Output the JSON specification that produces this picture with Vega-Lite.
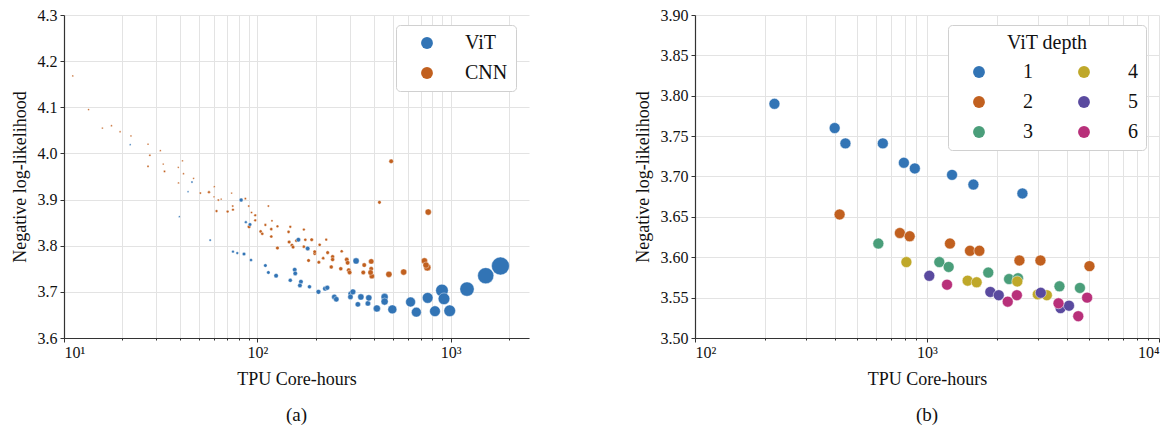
{
  "$schema": "https://vega.github.io/schema/vega-lite/v6.json",
  "padding": {"left": 11, "top": 7, "right": 0, "bottom": 0},
  "spacing": 105,
  "resolve": {"scale": {"color": "independent", "size": "independent", "x": "independent", "y": "independent"}, "legend": {"color": "independent"}},
  "config": {
    "font": "Liberation Serif",
    "view": {"stroke": null},
    "axis": {
      "labelFont": "Liberation Serif",
      "titleFont": "Liberation Serif",
      "labelFontSize": 16,
      "titleFontSize": 18,
      "titleFontWeight": "normal",
      "labelColor": "#111111",
      "titleColor": "#111111",
      "gridColor": "#e3e3e3",
      "gridWidth": 1,
      "domainColor": "#333333",
      "domainWidth": 1.2,
      "tickColor": "#333333",
      "tickSize": 4
    },
    "legend": {
      "labelFont": "Liberation Serif",
      "titleFont": "Liberation Serif",
      "labelFontSize": 20,
      "titleFontSize": 20,
      "titleFontWeight": "normal",
      "labelColor": "#111111",
      "titleColor": "#111111"
    },
    "title": {"font": "Liberation Serif", "fontSize": 19, "fontWeight": "normal", "color": "#111111"}
  },
  "datasets": {
    "models": [
      {"model": "CNN", "hours": 11.1, "nll": 4.168, "model_size": 4},
      {"model": "CNN", "hours": 13.4, "nll": 4.095, "model_size": 4},
      {"model": "CNN", "hours": 15.8, "nll": 4.055, "model_size": 4},
      {"model": "CNN", "hours": 17.6, "nll": 4.060, "model_size": 4},
      {"model": "CNN", "hours": 19.5, "nll": 4.047, "model_size": 4},
      {"model": "CNN", "hours": 22.2, "nll": 4.038, "model_size": 4},
      {"model": "CNN", "hours": 27.2, "nll": 4.020, "model_size": 4},
      {"model": "CNN", "hours": 27.8, "nll": 3.996, "model_size": 6},
      {"model": "CNN", "hours": 31.5, "nll": 4.006, "model_size": 4},
      {"model": "CNN", "hours": 27.2, "nll": 3.972, "model_size": 6},
      {"model": "CNN", "hours": 32.6, "nll": 3.977, "model_size": 4},
      {"model": "CNN", "hours": 33.1, "nll": 3.961, "model_size": 6},
      {"model": "CNN", "hours": 39.0, "nll": 3.970, "model_size": 4},
      {"model": "CNN", "hours": 41.0, "nll": 3.984, "model_size": 4},
      {"model": "CNN", "hours": 41.5, "nll": 3.956, "model_size": 4},
      {"model": "CNN", "hours": 46.8, "nll": 3.946, "model_size": 4},
      {"model": "CNN", "hours": 39.1, "nll": 3.936, "model_size": 4},
      {"model": "CNN", "hours": 50.7, "nll": 3.914, "model_size": 6},
      {"model": "CNN", "hours": 56.2, "nll": 3.916, "model_size": 9},
      {"model": "CNN", "hours": 59.9, "nll": 3.928, "model_size": 4},
      {"model": "CNN", "hours": 59.7, "nll": 3.906, "model_size": 4},
      {"model": "CNN", "hours": 62.8, "nll": 3.899, "model_size": 6},
      {"model": "CNN", "hours": 61.5, "nll": 3.875, "model_size": 9},
      {"model": "CNN", "hours": 65.0, "nll": 3.901, "model_size": 4},
      {"model": "CNN", "hours": 73.6, "nll": 3.914, "model_size": 4},
      {"model": "CNN", "hours": 70.2, "nll": 3.874, "model_size": 9},
      {"model": "CNN", "hours": 74.6, "nll": 3.886, "model_size": 6},
      {"model": "CNN", "hours": 74.8, "nll": 3.878, "model_size": 9},
      {"model": "CNN", "hours": 86.7, "nll": 3.902, "model_size": 6},
      {"model": "CNN", "hours": 90.3, "nll": 3.886, "model_size": 6},
      {"model": "CNN", "hours": 90.6, "nll": 3.841, "model_size": 16},
      {"model": "CNN", "hours": 93.3, "nll": 3.872, "model_size": 6},
      {"model": "CNN", "hours": 97.5, "nll": 3.866, "model_size": 9},
      {"model": "CNN", "hours": 97.5, "nll": 3.855, "model_size": 9},
      {"model": "CNN", "hours": 110, "nll": 3.845, "model_size": 9},
      {"model": "CNN", "hours": 114, "nll": 3.886, "model_size": 6},
      {"model": "CNN", "hours": 104, "nll": 3.831, "model_size": 12},
      {"model": "CNN", "hours": 106, "nll": 3.826, "model_size": 12},
      {"model": "CNN", "hours": 118, "nll": 3.836, "model_size": 12},
      {"model": "CNN", "hours": 119, "nll": 3.854, "model_size": 6},
      {"model": "CNN", "hours": 118, "nll": 3.820, "model_size": 12},
      {"model": "CNN", "hours": 127, "nll": 3.842, "model_size": 9},
      {"model": "CNN", "hours": 127, "nll": 3.795, "model_size": 16},
      {"model": "CNN", "hours": 145, "nll": 3.830, "model_size": 12},
      {"model": "CNN", "hours": 148, "nll": 3.841, "model_size": 9},
      {"model": "CNN", "hours": 146, "nll": 3.808, "model_size": 16},
      {"model": "CNN", "hours": 151, "nll": 3.801, "model_size": 16},
      {"model": "CNN", "hours": 153, "nll": 3.797, "model_size": 16},
      {"model": "CNN", "hours": 159, "nll": 3.811, "model_size": 12},
      {"model": "CNN", "hours": 174, "nll": 3.835, "model_size": 9},
      {"model": "CNN", "hours": 177, "nll": 3.813, "model_size": 12},
      {"model": "CNN", "hours": 174, "nll": 3.798, "model_size": 12},
      {"model": "CNN", "hours": 183, "nll": 3.793, "model_size": 12},
      {"model": "CNN", "hours": 184, "nll": 3.768, "model_size": 16},
      {"model": "CNN", "hours": 191, "nll": 3.813, "model_size": 16},
      {"model": "CNN", "hours": 198, "nll": 3.783, "model_size": 16},
      {"model": "CNN", "hours": 198, "nll": 3.787, "model_size": 16},
      {"model": "CNN", "hours": 208, "nll": 3.764, "model_size": 16},
      {"model": "CNN", "hours": 210, "nll": 3.802, "model_size": 12},
      {"model": "CNN", "hours": 219, "nll": 3.773, "model_size": 12},
      {"model": "CNN", "hours": 227, "nll": 3.813, "model_size": 9},
      {"model": "CNN", "hours": 231, "nll": 3.785, "model_size": 16},
      {"model": "CNN", "hours": 245, "nll": 3.776, "model_size": 20},
      {"model": "CNN", "hours": 245, "nll": 3.770, "model_size": 20},
      {"model": "CNN", "hours": 241, "nll": 3.754, "model_size": 20},
      {"model": "CNN", "hours": 273, "nll": 3.788, "model_size": 12},
      {"model": "CNN", "hours": 270, "nll": 3.750, "model_size": 20},
      {"model": "CNN", "hours": 290, "nll": 3.770, "model_size": 25},
      {"model": "CNN", "hours": 293, "nll": 3.763, "model_size": 25},
      {"model": "CNN", "hours": 297, "nll": 3.747, "model_size": 25},
      {"model": "CNN", "hours": 300, "nll": 3.742, "model_size": 25},
      {"model": "CNN", "hours": 353, "nll": 3.742, "model_size": 25},
      {"model": "CNN", "hours": 357, "nll": 3.758, "model_size": 25},
      {"model": "CNN", "hours": 388, "nll": 3.766, "model_size": 36},
      {"model": "CNN", "hours": 388, "nll": 3.750, "model_size": 25},
      {"model": "CNN", "hours": 391, "nll": 3.734, "model_size": 36},
      {"model": "CNN", "hours": 385, "nll": 3.742, "model_size": 36},
      {"model": "CNN", "hours": 428, "nll": 3.894, "model_size": 16},
      {"model": "CNN", "hours": 479, "nll": 3.738, "model_size": 49},
      {"model": "CNN", "hours": 492, "nll": 3.983, "model_size": 25},
      {"model": "CNN", "hours": 571, "nll": 3.743, "model_size": 49},
      {"model": "CNN", "hours": 731, "nll": 3.767, "model_size": 49},
      {"model": "CNN", "hours": 757, "nll": 3.753, "model_size": 64},
      {"model": "CNN", "hours": 765, "nll": 3.873, "model_size": 49},
      {"model": "CNN", "hours": 745, "nll": 3.758, "model_size": 49},
      {"model": "ViT", "hours": 22.0, "nll": 4.019, "model_size": 4},
      {"model": "ViT", "hours": 39.5, "nll": 3.863, "model_size": 4},
      {"model": "ViT", "hours": 43.8, "nll": 3.917, "model_size": 4},
      {"model": "ViT", "hours": 45.9, "nll": 3.938, "model_size": 6},
      {"model": "ViT", "hours": 57.0, "nll": 3.812, "model_size": 6},
      {"model": "ViT", "hours": 74.8, "nll": 3.787, "model_size": 9},
      {"model": "ViT", "hours": 78.7, "nll": 3.784, "model_size": 9},
      {"model": "ViT", "hours": 85.3, "nll": 3.782, "model_size": 16},
      {"model": "ViT", "hours": 82.4, "nll": 3.899, "model_size": 20},
      {"model": "ViT", "hours": 87.2, "nll": 3.851, "model_size": 9},
      {"model": "ViT", "hours": 91.6, "nll": 3.846, "model_size": 16},
      {"model": "ViT", "hours": 92.7, "nll": 3.769, "model_size": 12},
      {"model": "ViT", "hours": 110, "nll": 3.757, "model_size": 16},
      {"model": "ViT", "hours": 114, "nll": 3.742, "model_size": 16},
      {"model": "ViT", "hours": 125, "nll": 3.735, "model_size": 25},
      {"model": "ViT", "hours": 148, "nll": 3.725, "model_size": 20},
      {"model": "ViT", "hours": 156, "nll": 3.748, "model_size": 25},
      {"model": "ViT", "hours": 157, "nll": 3.740, "model_size": 25},
      {"model": "ViT", "hours": 163, "nll": 3.813, "model_size": 25},
      {"model": "ViT", "hours": 182, "nll": 3.794, "model_size": 25},
      {"model": "ViT", "hours": 168, "nll": 3.722, "model_size": 25},
      {"model": "ViT", "hours": 166, "nll": 3.714, "model_size": 25},
      {"model": "ViT", "hours": 186, "nll": 3.711, "model_size": 20},
      {"model": "ViT", "hours": 207, "nll": 3.700, "model_size": 30},
      {"model": "ViT", "hours": 224, "nll": 3.707, "model_size": 30},
      {"model": "ViT", "hours": 230, "nll": 3.709, "model_size": 30},
      {"model": "ViT", "hours": 250, "nll": 3.689, "model_size": 36},
      {"model": "ViT", "hours": 256, "nll": 3.684, "model_size": 36},
      {"model": "ViT", "hours": 304, "nll": 3.696, "model_size": 36},
      {"model": "ViT", "hours": 303, "nll": 3.689, "model_size": 36},
      {"model": "ViT", "hours": 312, "nll": 3.700, "model_size": 42},
      {"model": "ViT", "hours": 324, "nll": 3.767, "model_size": 49},
      {"model": "ViT", "hours": 331, "nll": 3.673, "model_size": 36},
      {"model": "ViT", "hours": 343, "nll": 3.689, "model_size": 49},
      {"model": "ViT", "hours": 373, "nll": 3.675, "model_size": 36},
      {"model": "ViT", "hours": 377, "nll": 3.687, "model_size": 49},
      {"model": "ViT", "hours": 415, "nll": 3.664, "model_size": 64},
      {"model": "ViT", "hours": 455, "nll": 3.689, "model_size": 64},
      {"model": "ViT", "hours": 455, "nll": 3.679, "model_size": 64},
      {"model": "ViT", "hours": 499, "nll": 3.662, "model_size": 100},
      {"model": "ViT", "hours": 620, "nll": 3.678, "model_size": 121},
      {"model": "ViT", "hours": 664, "nll": 3.656, "model_size": 121},
      {"model": "ViT", "hours": 760, "nll": 3.687, "model_size": 144},
      {"model": "ViT", "hours": 829, "nll": 3.658, "model_size": 144},
      {"model": "ViT", "hours": 901, "nll": 3.703, "model_size": 196},
      {"model": "ViT", "hours": 923, "nll": 3.685, "model_size": 169},
      {"model": "ViT", "hours": 988, "nll": 3.659, "model_size": 169},
      {"model": "ViT", "hours": 1214, "nll": 3.706, "model_size": 256},
      {"model": "ViT", "hours": 1517, "nll": 3.735, "model_size": 324},
      {"model": "ViT", "hours": 1808, "nll": 3.756, "model_size": 400}
    ],
    "depths": [
      {"depth": "1", "hours": 220, "nll": 3.790},
      {"depth": "1", "hours": 400, "nll": 3.760},
      {"depth": "1", "hours": 445, "nll": 3.741},
      {"depth": "1", "hours": 645, "nll": 3.741},
      {"depth": "1", "hours": 795, "nll": 3.717},
      {"depth": "1", "hours": 886, "nll": 3.710},
      {"depth": "1", "hours": 1282, "nll": 3.702},
      {"depth": "1", "hours": 1585, "nll": 3.690},
      {"depth": "1", "hours": 2578, "nll": 3.679},
      {"depth": "2", "hours": 420, "nll": 3.653},
      {"depth": "2", "hours": 764, "nll": 3.630},
      {"depth": "2", "hours": 842, "nll": 3.626},
      {"depth": "2", "hours": 1256, "nll": 3.617},
      {"depth": "2", "hours": 1532, "nll": 3.608},
      {"depth": "2", "hours": 1682, "nll": 3.608},
      {"depth": "2", "hours": 2503, "nll": 3.596},
      {"depth": "2", "hours": 3083, "nll": 3.596},
      {"depth": "2", "hours": 5015, "nll": 3.589},
      {"depth": "3", "hours": 617, "nll": 3.617},
      {"depth": "3", "hours": 1130, "nll": 3.594},
      {"depth": "3", "hours": 1240, "nll": 3.588},
      {"depth": "3", "hours": 1837, "nll": 3.581},
      {"depth": "3", "hours": 2258, "nll": 3.573},
      {"depth": "3", "hours": 2468, "nll": 3.574},
      {"depth": "3", "hours": 3724, "nll": 3.564},
      {"depth": "3", "hours": 4562, "nll": 3.562},
      {"depth": "4", "hours": 815, "nll": 3.594},
      {"depth": "4", "hours": 1497, "nll": 3.571},
      {"depth": "4", "hours": 1637, "nll": 3.569},
      {"depth": "4", "hours": 2450, "nll": 3.570},
      {"depth": "4", "hours": 3003, "nll": 3.554},
      {"depth": "4", "hours": 3285, "nll": 3.553},
      {"depth": "5", "hours": 1023, "nll": 3.577},
      {"depth": "5", "hours": 1875, "nll": 3.557},
      {"depth": "5", "hours": 2038, "nll": 3.553},
      {"depth": "5", "hours": 3093, "nll": 3.556},
      {"depth": "5", "hours": 3765, "nll": 3.537},
      {"depth": "5", "hours": 4093, "nll": 3.540},
      {"depth": "6", "hours": 1220, "nll": 3.566},
      {"depth": "6", "hours": 2228, "nll": 3.545},
      {"depth": "6", "hours": 2440, "nll": 3.553},
      {"depth": "6", "hours": 3688, "nll": 3.543},
      {"depth": "6", "hours": 4487, "nll": 3.527},
      {"depth": "6", "hours": 4900, "nll": 3.550}
    ]
  },
  "hconcat": [
    {
      "width": 465,
      "height": 323,
      "data": {"name": "models"},
      "title": {"text": "(a)", "orient": "bottom", "anchor": "middle", "offset": 18},
      "mark": {"type": "circle", "opacity": 1, "stroke": "white", "strokeWidth": 0.4},
      "encoding": {
        "x": {
          "field": "hours", "type": "quantitative",
          "scale": {"type": "log", "domain": [10, 2540], "nice": false},
          "axis": {
            "title": "TPU Core-hours",
            "values": [10, 20, 30, 40, 50, 60, 70, 80, 90, 100, 200, 300, 400, 500, 600, 700, 800, 900, 1000, 2000],
            "labelExpr": "datum.value == 10 ? '10¹' : datum.value == 100 ? '10²' : datum.value == 1000 ? '10³' : ''",
            "tickSize": {"condition": {"test": "datum.value == 10 || datum.value == 100 || datum.value == 1000", "value": 4}, "value": 2},
            "labelPadding": 2,
            "titlePadding": 10
          }
        },
        "y": {
          "field": "nll", "type": "quantitative",
          "scale": {"domain": [3.6, 4.3], "nice": false, "zero": false},
          "axis": {
            "title": "Negative log-likelihood",
            "values": [3.6, 3.7, 3.8, 3.9, 4.0, 4.1, 4.2, 4.3],
            "format": ".1f",
            "labelPadding": 3,
            "titlePadding": 8
          }
        },
        "color": {
          "field": "model", "type": "nominal",
          "scale": {"domain": ["ViT", "CNN"], "range": ["#3274b5", "#c1601f"]},
          "legend": {
            "title": null,
            "orient": "none",
            "legendX": 332,
            "legendY": 10,
            "padding": 8,
            "symbolType": "circle",
            "symbolSize": 140,
            "symbolStrokeWidth": 0,
            "symbolOffset": 13,
            "labelOffset": 28,
            "rowPadding": 10,
            "strokeColor": "#d0d0d0",
            "cornerRadius": 4,
            "fillColor": "white"
          }
        },
        "size": {
          "field": "model_size", "type": "quantitative",
          "scale": {"domain": [0, 400], "range": [0, 320], "zero": true},
          "legend": null
        }
      }
    },
    {
      "width": 464,
      "height": 323,
      "data": {"name": "depths"},
      "title": {"text": "(b)", "orient": "bottom", "anchor": "middle", "offset": 18},
      "mark": {"type": "circle", "opacity": 1, "size": 120, "stroke": "white", "strokeWidth": 0.5},
      "encoding": {
        "x": {
          "field": "hours", "type": "quantitative",
          "scale": {"type": "log", "domain": [100, 10000], "nice": false},
          "axis": {
            "title": "TPU Core-hours",
            "values": [100, 200, 300, 400, 500, 600, 700, 800, 900, 1000, 2000, 3000, 4000, 5000, 6000, 7000, 8000, 9000, 10000],
            "labelExpr": "datum.value == 100 ? '10²' : datum.value == 1000 ? '10³' : datum.value == 10000 ? '10⁴' : ''",
            "tickSize": {"condition": {"test": "datum.value == 100 || datum.value == 1000 || datum.value == 10000", "value": 4}, "value": 2},
            "labelPadding": 2,
            "titlePadding": 10
          }
        },
        "y": {
          "field": "nll", "type": "quantitative",
          "scale": {"domain": [3.5, 3.9], "nice": false, "zero": false},
          "axis": {
            "title": "Negative log-likelihood",
            "values": [3.5, 3.55, 3.6, 3.65, 3.7, 3.75, 3.8, 3.85, 3.9],
            "format": ".2f",
            "labelPadding": 3,
            "titlePadding": 8
          }
        },
        "color": {
          "field": "depth", "type": "nominal",
          "scale": {"domain": ["1", "2", "3", "4", "5", "6"], "range": ["#3274b5", "#c1601f", "#4a9e7a", "#bfa82a", "#5a4a9f", "#b8307a"]},
          "legend": {
            "title": "ViT depth",
            "titleAnchor": "middle",
            "titlePadding": 9,
            "orient": "none",
            "legendX": 253,
            "legendY": 10,
            "columns": 2,
            "padding": 8,
            "symbolType": "circle",
            "symbolSize": 140,
            "symbolStrokeWidth": 0,
            "symbolOffset": 13,
            "labelOffset": 34,
            "columnPadding": 28,
            "rowPadding": 10,
            "strokeColor": "#d0d0d0",
            "cornerRadius": 4,
            "fillColor": "white"
          }
        }
      }
    }
  ]
}
